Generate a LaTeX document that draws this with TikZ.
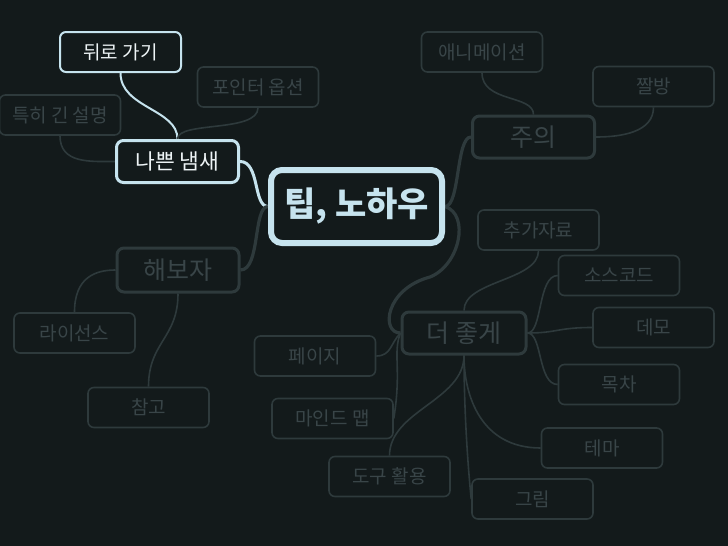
\documentclass[tikz,border=0pt]{standalone}
\usepackage{fontspec}
\setmainfont{Noto Sans CJK KR}
\usetikzlibrary{backgrounds}
\definecolor{bgc}{HTML}{131A1B}
\definecolor{dimc}{HTML}{2E3A3C}
\definecolor{dimt}{HTML}{394548}
\definecolor{lightc}{HTML}{C6E3EE}
\definecolor{whitec}{HTML}{EEF4F6}
\begin{document}
\begin{tikzpicture}[x=1pt,y=-1pt,
  leaf/.style={draw=dimc, line width=1.6pt, rounded corners=6pt, minimum width=121pt, minimum height=40pt, inner sep=0pt, text=dimt, fill=bgc, font=\fontsize{19}{21}\selectfont},
  hileaf/.style={leaf, draw=lightc, line width=2pt, text=whitec},
  lone/.style={draw=dimc, line width=3pt, rounded corners=7pt, minimum width=122pt, minimum height=42pt, inner sep=0pt, text=dimt, fill=bgc, font=\fontsize{25}{27}\selectfont},
  hilone/.style={lone, draw=lightc, text=whitec, font=\fontsize{21.5}{24}\selectfont},
  mainbox/.style={draw=lightc, line width=6pt, rounded corners=11pt, minimum width=171pt, minimum height=73pt, inner sep=0pt, text=lightc, fill=bgc, font=\fontsize{34}{36}\selectfont\bfseries},
  thin/.style={draw=dimc, line width=1.6pt},
  thick/.style={draw=dimc, line width=3.2pt},
  hithin/.style={draw=lightc, line width=2pt},
  hithick/.style={draw=lightc, line width=3pt}
]
\useasboundingbox (0,0) rectangle (728,546);
% nodes
\node[mainbox] (main) at (356.5,206.5) {팁, 노하우};
\node[hilone] (bad) at (177.5,161.5) {나쁜 냄새};
\node[hileaf] (back) at (120.5,52) {뒤로 가기};
\node[leaf] (pointer) at (258,87) {포인터 옵션};
\node[leaf, inner xsep=0pt] (long) at (60,115) {특히 긴 설명};
\node[lone] (caution) at (533.5,137) {주의};
\node[leaf] (anim) at (482,52) {애니메이션};
\node[leaf] (zzal) at (653.5,86.5) {짤방};
\node[lone, minimum height=44pt] (try) at (178,270) {해보자};
\node[leaf] (license) at (74.5,333) {라이선스};
\node[leaf] (ref) at (148.5,407.5) {참고};
\node[lone, minimum width=124pt] (better) at (464,333) {더 좋게};
\node[leaf] (extra) at (538.5,230) {추가자료};
\node[leaf] (source) at (619,275.5) {소스코드};
\node[leaf] (demo) at (653.5,327.5) {데모};
\node[leaf] (toc) at (619,384.5) {목차};
\node[leaf] (theme) at (602,448) {테마};
\node[leaf] (pic) at (532.5,499) {그림};
\node[leaf] (tool) at (389.5,476.5) {도구 활용};
\node[leaf] (mind) at (332.5,418.5) {마인드 맵};
\node[leaf] (page) at (315,356) {페이지};

\begin{pgfonlayer}{background}
\fill[bgc] (0,0) rectangle (728,546);
\coordinate (mid) at (430,277);
\path[hithin] (back.south) .. controls +(0,35) and +(0,-30) .. (bad.north);
\path[thin] (pointer.south) .. controls +(0,25) and +(0,-18) .. (bad.north);
\path[thin] (long.south) .. controls +(0,28) and +(-25,0) .. (bad.west);
\path[hithick] (bad.east) .. controls +(20,0) and +(-15,0) .. (main.west);
\path[thick] (try.east) .. controls +(20,0) and +(-15,0) .. (main.west);
\path[thick] (main.east) .. controls +(15,0) and +(-15,0) .. (caution.west);
\path[thick] (main.east) .. controls +(25,8) and +(30,-12) .. (mid) .. controls +(-45,12) and +(-20,0) .. (better.west);
\path[thin] (anim.south) .. controls +(0,30) and +(0,-20) .. (caution.north);
\path[thin] (zzal.south) .. controls +(0,25) and +(25,0) .. (caution.east);
\path[thin] (license.north) .. controls +(0,-35) and +(-20,0) .. (try.west);
\path[thin] (ref.north) .. controls +(0,-45) and +(0,45) .. (try.south);
\path[thin] (extra.south) .. controls +(0,30) and +(0,-30) .. (better.north);
\path[thin] (source.west) .. controls +(-20,0) and +(15,0) .. (better.east);
\path[thin] (demo.west) .. controls +(-35,0) and +(30,0) .. (better.east);
\path[thin] (toc.west) .. controls +(-20,0) and +(15,0) .. (better.east);
\path[thin] (theme.west) .. controls +(-60,0) and +(0,40) .. (better.south);
\path[thin] (pic.west) .. controls +(-5,-50) and +(0,40) .. (better.south);
\path[thin] (tool.north) .. controls +(0,-45) and +(0,45) .. (better.south);
\path[thin] (mind.east) .. controls +(8,-50) and +(-8,20) .. (better.west);
\path[thin] (page.east) .. controls +(15,0) and +(-10,10) .. (better.west);
\end{pgfonlayer}
\end{tikzpicture}
\end{document}
